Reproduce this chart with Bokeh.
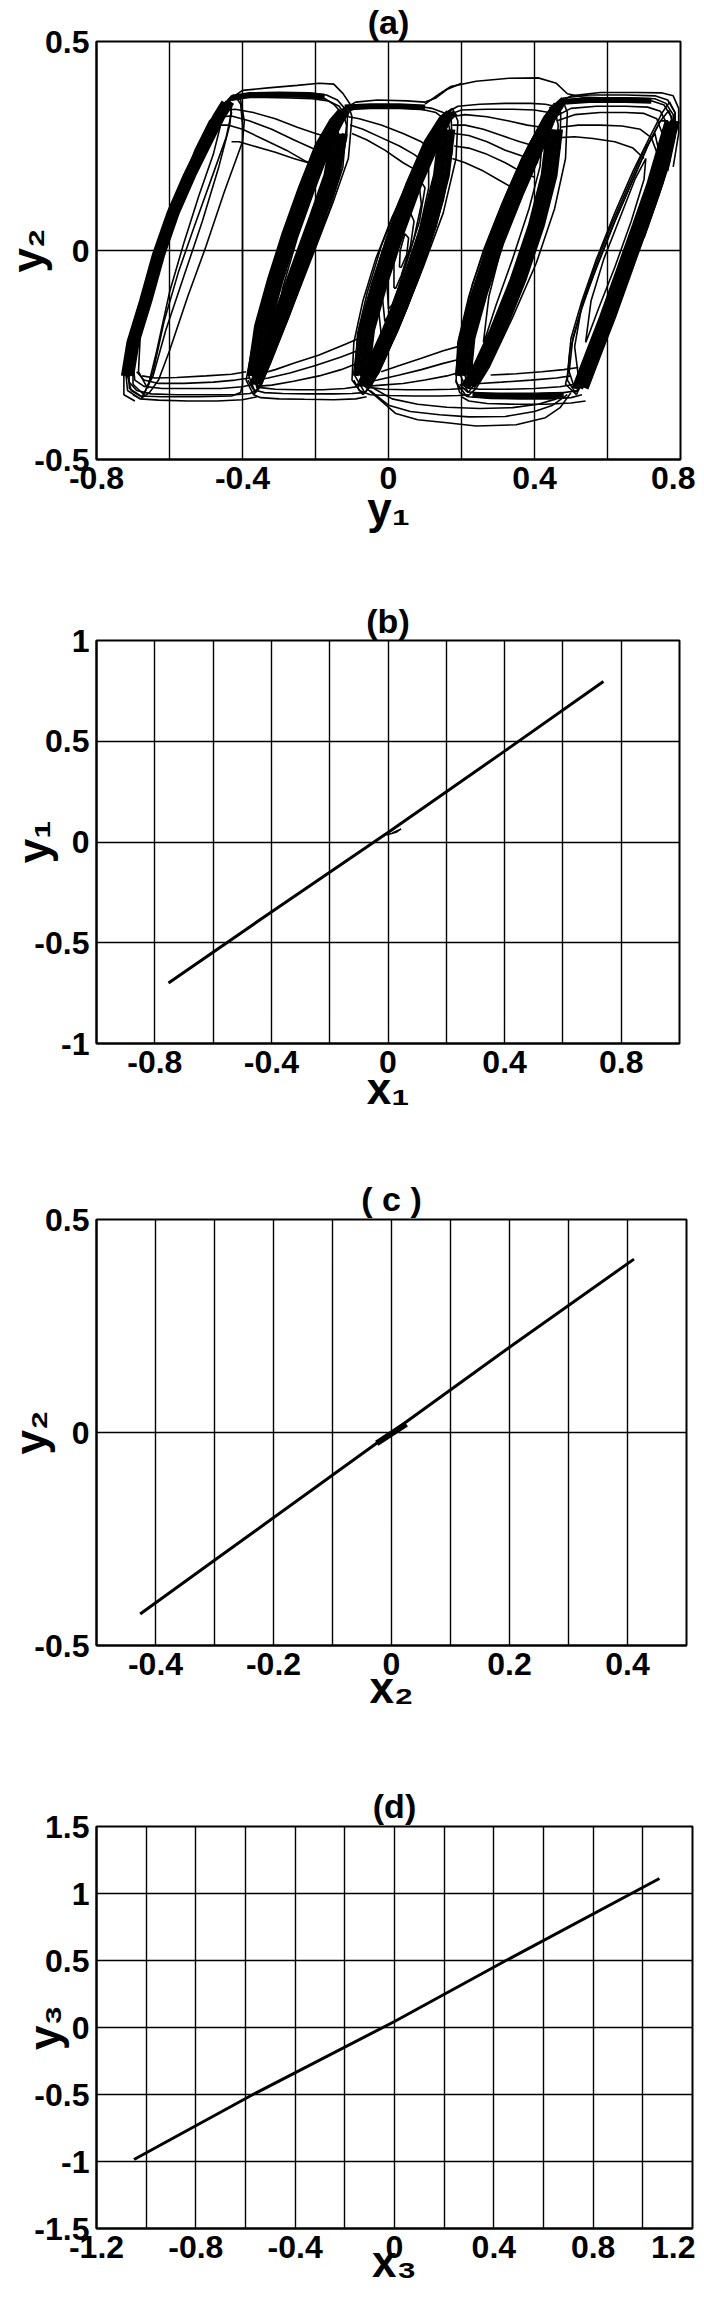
from bokeh.plotting import figure
from bokeh.layouts import column
from bokeh.models import FixedTicker, Range1d
from bokeh.embed import file_html
from bokeh.resources import INLINE

# ---------------- tick / grid data ----------------
a_xticks = [-0.8, -0.4, 0, 0.4, 0.8]
a_xlabels = ["-0.8", "-0.4", "0", "0.4", "0.8"]
a_xgrid = [-0.6, -0.4, -0.2, 0, 0.2, 0.4, 0.6]
a_yticks = [-0.5, 0, 0.5]
a_ylabels = ["-0.5", "0", "0.5"]
a_ygrid = [0]

b_xticks = [-0.8, -0.4, 0, 0.4, 0.8]
b_xlabels = ["-0.8", "-0.4", "0", "0.4", "0.8"]
b_xgrid = [-0.8, -0.6, -0.4, -0.2, 0, 0.2, 0.4, 0.6, 0.8]
b_yticks = [-1, -0.5, 0, 0.5, 1]
b_ylabels = ["-1", "-0.5", "0", "0.5", "1"]
b_ygrid = [-0.5, 0, 0.5]

c_xticks = [-0.4, -0.2, 0, 0.2, 0.4]
c_xlabels = ["-0.4", "-0.2", "0", "0.2", "0.4"]
c_xgrid = [-0.4, -0.3, -0.2, -0.1, 0, 0.1, 0.2, 0.3, 0.4]
c_yticks = [-0.5, 0, 0.5]
c_ylabels = ["-0.5", "0", "0.5"]
c_ygrid = [0]

d_xticks = [-1.2, -0.8, -0.4, 0, 0.4, 0.8, 1.2]
d_xlabels = ["-1.2", "-0.8", "-0.4", "0", "0.4", "0.8", "1.2"]
d_xgrid = [-1.0, -0.8, -0.6, -0.4, -0.2, 0, 0.2, 0.4, 0.6, 0.8, 1.0]
d_yticks = [-1.5, -1, -0.5, 0, 0.5, 1, 1.5]
d_ylabels = ["-1.5", "-1", "-0.5", "0", "0.5", "1", "1.5"]
d_ygrid = [-1, -0.5, 0, 0.5, 1]

# ---------------- panel (b), (c), (d) synchronisation lines ----------------
b_x = [-0.753, -0.40, 0.0, 0.40, 0.739]
b_y = [-0.700, -0.347, 0.047, 0.451, 0.797]
b_hook_x = [-0.005, 0.03, 0.045, 0.015]
b_hook_y = [0.035, 0.05, 0.065, 0.045]

c_x = [-0.426, -0.30, 0.0, 0.20, 0.411]
c_y = [-0.426, -0.30, 0.0, 0.20, 0.407]
c_blob_x = [-0.025, 0.025]
c_blob_y = [-0.025, 0.02]

d_x = [-1.049, -0.57, 0.0, 0.449, 1.067]
d_y = [-0.985, -0.50, 0.045, 0.50, 1.112]

# ---------------- panel (a): traced strokes of the multi-scroll attractor ----------------
scroll_a_x = [
    [-0.44, -0.42, -0.405, -0.400, -0.400, -0.405, -0.43, -0.52, -0.62, -0.68, -0.705, -0.715, -0.70],
    [-0.68, -0.715, -0.72, -0.70, -0.665, -0.625, -0.58, -0.53, -0.485, -0.45, -0.425, -0.405, -0.395, -0.40, -0.45, -0.50, -0.55, -0.60, -0.63, -0.655, -0.68],
    [-0.67, -0.70, -0.70, -0.675, -0.64, -0.60, -0.55, -0.505, -0.465, -0.44, -0.43, -0.445, -0.49, -0.535, -0.575, -0.615, -0.645, -0.67],
    [-0.66, -0.685, -0.68, -0.655, -0.62, -0.575, -0.53, -0.49, -0.465, -0.46, -0.48, -0.52, -0.56, -0.60, -0.635, -0.66],
    [-0.695, -0.725, -0.725, -0.705, -0.67, -0.63, -0.585, -0.54, -0.495, -0.46, -0.44, -0.43],
    [-0.675, -0.71, -0.712, -0.69, -0.655, -0.615, -0.57, -0.52, -0.475, -0.445, -0.43, -0.435, -0.465, -0.51, -0.56, -0.61, -0.645, -0.675],
]
scroll_a_y = [
    [0.36, 0.37, 0.35, 0.30, -0.32, -0.340, -0.348, -0.350, -0.350, -0.348, -0.335, -0.30, -0.22],
    [-0.355, -0.335, -0.29, -0.20, -0.10, 0.01, 0.12, 0.22, 0.30, 0.35, 0.372, 0.36, 0.31, 0.26, 0.14, 0.01, -0.11, -0.24, -0.31, -0.34, -0.355],
    [-0.345, -0.32, -0.26, -0.17, -0.06, 0.05, 0.16, 0.25, 0.32, 0.35, 0.33, 0.27, 0.16, 0.05, -0.05, -0.17, -0.29, -0.345],
    [-0.33, -0.29, -0.20, -0.09, 0.03, 0.14, 0.24, 0.31, 0.33, 0.30, 0.23, 0.13, 0.02, -0.10, -0.24, -0.33],
    [-0.36, -0.345, -0.30, -0.21, -0.11, 0.0, 0.11, 0.21, 0.29, 0.34, 0.36, 0.37],
    [-0.35, -0.33, -0.27, -0.18, -0.08, 0.03, 0.14, 0.24, 0.31, 0.35, 0.345, 0.30, 0.20, 0.07, -0.06, -0.19, -0.30, -0.35],
]
scroll_b_x = [
    [-0.37, -0.39, -0.375, -0.34, -0.30, -0.255, -0.205, -0.16, -0.13, -0.11, -0.10, -0.11, -0.15, -0.205, -0.265, -0.325, -0.35, -0.37],
    [-0.36, -0.375, -0.355, -0.32, -0.28, -0.235, -0.19, -0.15, -0.125, -0.115, -0.125, -0.165, -0.22, -0.275, -0.33, -0.35, -0.36],
    [-0.345, -0.355, -0.33, -0.29, -0.245, -0.20, -0.16, -0.14, -0.135, -0.155, -0.20, -0.25, -0.30, -0.335, -0.345],
    [-0.31, -0.29, -0.25, -0.205, -0.17, -0.16, -0.18, -0.22, -0.265, -0.30, -0.31],
    [-0.365, -0.385, -0.365, -0.33, -0.29, -0.245, -0.20, -0.155, -0.128, -0.112, -0.115, -0.14, -0.185, -0.24, -0.30, -0.34, -0.365],
]
scroll_b_y = [
    [-0.345, -0.31, -0.24, -0.13, -0.02, 0.10, 0.21, 0.295, 0.335, 0.348, 0.32, 0.22, 0.12, -0.005, -0.14, -0.27, -0.325, -0.345],
    [-0.33, -0.28, -0.17, -0.06, 0.05, 0.16, 0.25, 0.31, 0.33, 0.30, 0.20, 0.09, -0.03, -0.15, -0.27, -0.32, -0.33],
    [-0.30, -0.22, -0.11, 0.00, 0.11, 0.21, 0.28, 0.30, 0.26, 0.15, 0.04, -0.08, -0.19, -0.28, -0.30],
    [-0.20, -0.09, 0.03, 0.14, 0.22, 0.20, 0.11, 0.00, -0.11, -0.19, -0.20],
    [-0.34, -0.295, -0.20, -0.09, 0.02, 0.13, 0.23, 0.30, 0.335, 0.33, 0.27, 0.17, 0.05, -0.08, -0.21, -0.30, -0.34],
]
scroll_c_x = [
    [-0.07, -0.10, -0.095, -0.07, -0.035, 0.01, 0.065, 0.115, 0.15, 0.175, 0.19, 0.185, 0.15, 0.095, 0.035, -0.025, -0.055, -0.07],
    [-0.06, -0.085, -0.075, -0.045, -0.005, 0.045, 0.095, 0.135, 0.16, 0.17, 0.155, 0.115, 0.06, 0.00, -0.04, -0.06],
    [-0.05, -0.065, -0.045, -0.01, 0.035, 0.085, 0.125, 0.145, 0.14, 0.105, 0.055, 0.00, -0.035, -0.05],
    [-0.065, -0.092, -0.085, -0.058, -0.02, 0.03, 0.08, 0.125, 0.155, 0.172, 0.175, 0.15, 0.105, 0.05, -0.01, -0.045, -0.065],
    [-0.02, -0.03, -0.005, 0.035, 0.08, 0.11, 0.11, 0.085, 0.045, 0.005, -0.02],
    [-0.01, -0.018, 0.005, 0.045, 0.085, 0.10, 0.085, 0.045, 0.01, -0.01],
    [0.0, -0.005, 0.02, 0.055, 0.085, 0.09, 0.07, 0.035, 0.01, 0.0],
    [0.015, 0.015, 0.035, 0.06, 0.07, 0.06, 0.035, 0.02, 0.015],
    [0.03, 0.032, 0.045, 0.055, 0.05, 0.035, 0.03],
]
scroll_c_y = [
    [-0.345, -0.31, -0.22, -0.12, -0.02, 0.08, 0.18, 0.27, 0.325, 0.34, 0.31, 0.22, 0.09, -0.04, -0.17, -0.29, -0.33, -0.345],
    [-0.33, -0.28, -0.18, -0.08, 0.03, 0.14, 0.24, 0.30, 0.32, 0.28, 0.16, 0.03, -0.10, -0.22, -0.30, -0.33],
    [-0.30, -0.22, -0.11, 0.00, 0.12, 0.22, 0.28, 0.27, 0.19, 0.07, -0.06, -0.18, -0.27, -0.30],
    [-0.34, -0.30, -0.20, -0.10, 0.01, 0.12, 0.22, 0.29, 0.325, 0.31, 0.24, 0.12, -0.01, -0.14, -0.26, -0.32, -0.34],
    [-0.20, -0.12, -0.02, 0.09, 0.18, 0.21, 0.15, 0.05, -0.07, -0.17, -0.20],
    [-0.17, -0.10, -0.005, 0.10, 0.17, 0.15, 0.07, -0.04, -0.14, -0.17],
    [-0.14, -0.07, 0.02, 0.11, 0.15, 0.11, 0.03, -0.07, -0.13, -0.14],
    [-0.09, -0.03, 0.04, 0.09, 0.07, 0.01, -0.06, -0.09, -0.09],
    [-0.04, 0.0, 0.04, 0.03, -0.01, -0.04, -0.04],
]
scroll_d_x = [
    [0.215, 0.185, 0.19, 0.22, 0.26, 0.31, 0.365, 0.415, 0.45, 0.475, 0.49, 0.485, 0.455, 0.405, 0.34, 0.275, 0.24, 0.215],
    [0.22, 0.20, 0.21, 0.245, 0.29, 0.34, 0.39, 0.43, 0.455, 0.465, 0.455, 0.42, 0.365, 0.305, 0.255, 0.22],
    [0.235, 0.22, 0.24, 0.28, 0.325, 0.375, 0.415, 0.44, 0.44, 0.41, 0.36, 0.305, 0.26, 0.235],
    [0.26, 0.275, 0.31, 0.355, 0.395, 0.42, 0.415, 0.385, 0.34, 0.295, 0.265, 0.26],
    [0.218, 0.193, 0.20, 0.23, 0.275, 0.325, 0.38, 0.425, 0.455, 0.472, 0.47, 0.44, 0.39, 0.33, 0.27, 0.235, 0.218],
]
scroll_d_y = [
    [-0.35, -0.315, -0.22, -0.11, 0.00, 0.11, 0.22, 0.30, 0.345, 0.365, 0.33, 0.22, 0.10, -0.03, -0.16, -0.28, -0.33, -0.35],
    [-0.33, -0.27, -0.17, -0.06, 0.05, 0.16, 0.26, 0.32, 0.34, 0.30, 0.19, 0.06, -0.07, -0.19, -0.29, -0.33],
    [-0.30, -0.22, -0.11, 0.01, 0.12, 0.22, 0.29, 0.30, 0.24, 0.12, -0.01, -0.14, -0.25, -0.30],
    [-0.22, -0.11, 0.01, 0.12, 0.21, 0.25, 0.20, 0.10, -0.02, -0.13, -0.21, -0.22],
    [-0.34, -0.29, -0.19, -0.08, 0.03, 0.14, 0.245, 0.315, 0.35, 0.33, 0.25, 0.12, -0.01, -0.14, -0.26, -0.32, -0.34],
]
scroll_e_x = [
    [0.515, 0.485, 0.49, 0.50, 0.53, 0.57, 0.62, 0.67, 0.715, 0.75, 0.77, 0.785, 0.785, 0.77, 0.735, 0.69, 0.64, 0.59, 0.545, 0.52, 0.515],
    [0.51, 0.495, 0.505, 0.535, 0.575, 0.625, 0.675, 0.715, 0.745, 0.765, 0.765, 0.745, 0.71, 0.665, 0.615, 0.565, 0.53, 0.51],
    [0.52, 0.51, 0.53, 0.565, 0.61, 0.66, 0.70, 0.73, 0.74, 0.72, 0.68, 0.635, 0.585, 0.545, 0.52],
    [0.54, 0.555, 0.59, 0.635, 0.675, 0.705, 0.70, 0.665, 0.62, 0.575, 0.545, 0.54],
    [0.512, 0.49, 0.497, 0.525, 0.565, 0.615, 0.665, 0.71, 0.745, 0.768, 0.778, 0.77, 0.74, 0.70, 0.65, 0.60, 0.555, 0.525, 0.512],
]
scroll_e_y = [
    [-0.345, -0.32, -0.30, -0.21, -0.12, -0.02, 0.09, 0.19, 0.27, 0.33, 0.355, 0.33, 0.30, 0.22, 0.12, 0.01, -0.10, -0.20, -0.29, -0.335, -0.345],
    [-0.33, -0.29, -0.21, -0.12, -0.03, 0.08, 0.18, 0.26, 0.31, 0.31, 0.26, 0.17, 0.07, -0.04, -0.15, -0.25, -0.31, -0.33],
    [-0.30, -0.23, -0.13, -0.04, 0.06, 0.16, 0.24, 0.28, 0.24, 0.15, 0.04, -0.07, -0.18, -0.27, -0.30],
    [-0.22, -0.12, -0.02, 0.08, 0.17, 0.22, 0.17, 0.07, -0.04, -0.14, -0.21, -0.22],
    [-0.34, -0.31, -0.24, -0.15, -0.05, 0.06, 0.16, 0.25, 0.31, 0.335, 0.31, 0.24, 0.15, 0.04, -0.07, -0.17, -0.27, -0.325, -0.34],
]
# upper transitions between neighbouring scrolls
top_x = [
    [-0.43, -0.40, -0.33, -0.25, -0.19, -0.15, -0.125, -0.105],
    [-0.44, -0.41, -0.35, -0.28, -0.21, -0.17, -0.14, -0.12, -0.11],
    [-0.445, -0.42, -0.36, -0.29, -0.22, -0.18, -0.15, -0.13],
    [-0.435, -0.40, -0.34, -0.27, -0.21, -0.165, -0.135, -0.12],
    [-0.45, -0.42, -0.37, -0.31, -0.25, -0.20, -0.16, -0.14],
    [-0.455, -0.43, -0.38, -0.32, -0.26, -0.21, -0.17],
    [-0.46, -0.44, -0.40, -0.34, -0.28, -0.23, -0.19],
    [-0.43, -0.41, -0.37, -0.31, -0.26, -0.22, -0.20],
    [-0.13, -0.10, -0.05, 0.02, 0.08, 0.12, 0.15, 0.17],
    [-0.12, -0.09, -0.03, 0.04, 0.09, 0.13, 0.16],
    [-0.11, -0.08, -0.02, 0.04, 0.09, 0.12],
    [-0.105, -0.07, -0.02, 0.03, 0.07, 0.10],
    [-0.10, -0.06, -0.01, 0.04, 0.08],
    [-0.12, -0.09, -0.03, 0.05, 0.10, 0.13, 0.16, 0.20],
    [0.10, 0.14, 0.17, 0.24, 0.33, 0.41, 0.46, 0.49, 0.53, 0.60],
    [0.16, 0.19, 0.25, 0.32, 0.39, 0.43, 0.455, 0.47],
    [0.165, 0.20, 0.27, 0.34, 0.40, 0.44, 0.462],
    [0.17, 0.21, 0.27, 0.33, 0.38, 0.42, 0.44],
    [0.175, 0.21, 0.26, 0.31, 0.36, 0.40, 0.43],
    [0.18, 0.22, 0.27, 0.32, 0.37, 0.41],
    [0.18, 0.22, 0.27, 0.32, 0.36, 0.40],
    [0.175, 0.21, 0.26, 0.30, 0.34],
    [0.44, 0.48, 0.55, 0.65, 0.73, 0.765, 0.785, 0.785, 0.77, 0.74, 0.70],
    [0.45, 0.49, 0.56, 0.65, 0.72, 0.755, 0.775, 0.775, 0.755, 0.72],
    [0.45, 0.50, 0.57, 0.66, 0.73, 0.76, 0.78, 0.78, 0.765],
    [0.455, 0.50, 0.57, 0.65, 0.71, 0.745, 0.765, 0.76, 0.74],
    [0.46, 0.51, 0.58, 0.65, 0.70, 0.735, 0.75, 0.745],
    [0.47, 0.52, 0.58, 0.64, 0.69, 0.72, 0.735],
    [0.47, 0.51, 0.56, 0.62, 0.67, 0.70],
    [0.46, 0.50, 0.58, 0.68, 0.75, 0.78, 0.795, 0.795, 0.78],
]
top_y = [
    [0.365, 0.383, 0.389, 0.395, 0.400, 0.398, 0.376, 0.35],
    [0.355, 0.372, 0.377, 0.377, 0.376, 0.372, 0.36, 0.34, 0.32],
    [0.35, 0.368, 0.372, 0.372, 0.37, 0.366, 0.35, 0.33],
    [0.36, 0.366, 0.366, 0.365, 0.363, 0.358, 0.345, 0.325],
    [0.335, 0.338, 0.33, 0.315, 0.295, 0.28, 0.27, 0.255],
    [0.32, 0.322, 0.31, 0.29, 0.265, 0.245, 0.23],
    [0.30, 0.30, 0.29, 0.265, 0.24, 0.215, 0.20],
    [0.26, 0.26, 0.25, 0.235, 0.22, 0.21, 0.20],
    [0.335, 0.345, 0.347, 0.347, 0.345, 0.34, 0.33, 0.315],
    [0.33, 0.34, 0.341, 0.341, 0.338, 0.33, 0.31],
    [0.32, 0.315, 0.30, 0.28, 0.26, 0.24],
    [0.30, 0.29, 0.27, 0.25, 0.23, 0.21],
    [0.28, 0.265, 0.24, 0.21, 0.19],
    [0.34, 0.355, 0.36, 0.358, 0.355, 0.365, 0.385, 0.40],
    [0.35, 0.375, 0.392, 0.405, 0.412, 0.413, 0.40, 0.375, 0.367, 0.365],
    [0.33, 0.345, 0.35, 0.352, 0.352, 0.35, 0.345, 0.34],
    [0.325, 0.336, 0.338, 0.338, 0.336, 0.33, 0.32],
    [0.32, 0.325, 0.32, 0.31, 0.30, 0.295, 0.29],
    [0.30, 0.30, 0.29, 0.275, 0.26, 0.25, 0.245],
    [0.28, 0.275, 0.26, 0.24, 0.225, 0.21],
    [0.25, 0.245, 0.23, 0.21, 0.19, 0.175],
    [0.22, 0.21, 0.19, 0.17, 0.15],
    [0.34, 0.365, 0.372, 0.372, 0.37, 0.36, 0.33, 0.27, 0.21, 0.13, 0.03],
    [0.33, 0.355, 0.36, 0.36, 0.358, 0.348, 0.32, 0.26, 0.18, 0.09],
    [0.34, 0.36, 0.365, 0.365, 0.363, 0.352, 0.325, 0.26, 0.19],
    [0.32, 0.34, 0.345, 0.345, 0.343, 0.333, 0.30, 0.24, 0.17],
    [0.31, 0.325, 0.33, 0.33, 0.328, 0.315, 0.28, 0.22],
    [0.295, 0.30, 0.30, 0.298, 0.29, 0.27, 0.235],
    [0.27, 0.272, 0.268, 0.26, 0.245, 0.22],
    [0.35, 0.37, 0.378, 0.378, 0.377, 0.37, 0.34, 0.28, 0.20],
]
# lower transitions between neighbouring scrolls
bottom_x = [
    [-0.36, -0.38, -0.42, -0.50, -0.58, -0.65, -0.69, -0.71, -0.715],
    [-0.37, -0.40, -0.46, -0.54, -0.62, -0.67, -0.695, -0.70],
    [-0.38, -0.42, -0.48, -0.56, -0.63, -0.67, -0.69],
    [-0.39, -0.43, -0.50, -0.58, -0.64, -0.675],
    [-0.36, -0.40, -0.47, -0.55, -0.63, -0.68, -0.70],
    [-0.07, -0.10, -0.15, -0.22, -0.29, -0.34, -0.37, -0.385],
    [-0.08, -0.12, -0.18, -0.25, -0.31, -0.35, -0.37],
    [-0.085, -0.13, -0.19, -0.26, -0.32, -0.36],
    [-0.085, -0.13, -0.20, -0.27, -0.33, -0.36],
    [-0.08, -0.12, -0.19, -0.26, -0.31, -0.35],
    [-0.06, -0.09, -0.15, -0.23, -0.30, -0.35, -0.37],
    [0.22, 0.19, 0.14, 0.07, 0.00, -0.05, -0.08, -0.095],
    [0.21, 0.17, 0.11, 0.05, -0.01, -0.05, -0.075],
    [0.20, 0.16, 0.10, 0.04, -0.02, -0.06],
    [0.195, 0.15, 0.09, 0.03, -0.03, -0.06],
    [0.19, 0.15, 0.09, 0.03, -0.02],
    [-0.06, -0.02, 0.02, 0.08, 0.16, 0.24, 0.35, 0.43, 0.47, 0.50],
    [-0.05, 0.00, 0.06, 0.14, 0.22, 0.32, 0.40, 0.45, 0.49],
    [-0.04, 0.01, 0.08, 0.16, 0.25, 0.34, 0.41, 0.46],
    [0.53, 0.50, 0.44, 0.36, 0.28, 0.22, 0.195, 0.185],
    [0.52, 0.48, 0.41, 0.33, 0.26, 0.215, 0.195],
    [0.51, 0.47, 0.40, 0.32, 0.25, 0.21],
    [0.50, 0.46, 0.39, 0.31, 0.25, 0.215],
    [0.54, 0.50, 0.43, 0.35, 0.27, 0.22, 0.20],
    [0.52, 0.48, 0.42, 0.35, 0.28],
]
bottom_y = [
    [-0.335, -0.342, -0.345, -0.345, -0.345, -0.343, -0.335, -0.315, -0.28],
    [-0.32, -0.326, -0.33, -0.33, -0.33, -0.325, -0.31, -0.27],
    [-0.305, -0.31, -0.315, -0.318, -0.318, -0.31, -0.29],
    [-0.29, -0.296, -0.30, -0.304, -0.305, -0.30],
    [-0.35, -0.357, -0.36, -0.36, -0.358, -0.355, -0.345],
    [-0.34, -0.342, -0.343, -0.343, -0.342, -0.34, -0.333, -0.31],
    [-0.325, -0.33, -0.333, -0.333, -0.332, -0.328, -0.315],
    [-0.27, -0.285, -0.30, -0.313, -0.322, -0.325],
    [-0.24, -0.255, -0.275, -0.293, -0.305, -0.31],
    [-0.21, -0.225, -0.25, -0.27, -0.285, -0.295],
    [-0.35, -0.355, -0.357, -0.356, -0.355, -0.352, -0.345],
    [-0.345, -0.347, -0.348, -0.348, -0.347, -0.345, -0.335, -0.31],
    [-0.33, -0.332, -0.333, -0.333, -0.332, -0.328, -0.315],
    [-0.29, -0.30, -0.31, -0.318, -0.322, -0.325],
    [-0.26, -0.27, -0.285, -0.298, -0.31, -0.315],
    [-0.23, -0.24, -0.258, -0.275, -0.29],
    [-0.33, -0.36, -0.39, -0.405, -0.412, -0.42, -0.417, -0.40, -0.376, -0.34],
    [-0.335, -0.37, -0.385, -0.393, -0.398, -0.397, -0.385, -0.37, -0.345],
    [-0.33, -0.355, -0.368, -0.375, -0.378, -0.376, -0.368, -0.355],
    [-0.345, -0.352, -0.355, -0.355, -0.354, -0.35, -0.34, -0.31],
    [-0.335, -0.34, -0.343, -0.343, -0.342, -0.338, -0.32],
    [-0.32, -0.326, -0.33, -0.332, -0.332, -0.328],
    [-0.30, -0.305, -0.31, -0.315, -0.318, -0.318],
    [-0.36, -0.365, -0.368, -0.368, -0.366, -0.36, -0.35],
    [-0.28, -0.285, -0.29, -0.295, -0.298],
]
# densely over-written strands (drawn heavier)
dense_x = [
    [-0.725, -0.71, -0.675, -0.64, -0.60, -0.555, -0.51, -0.475, -0.45],
    [-0.715, -0.70, -0.665, -0.63, -0.59, -0.545, -0.50, -0.465, -0.44],
    [-0.705, -0.69, -0.655, -0.62, -0.58, -0.535, -0.49, -0.455, -0.43],
    [-0.38, -0.36, -0.325, -0.285, -0.24, -0.195, -0.155, -0.13],
    [-0.365, -0.345, -0.31, -0.27, -0.225, -0.18, -0.14, -0.12],
    [-0.35, -0.33, -0.295, -0.255, -0.21, -0.165, -0.13, -0.112],
    [-0.12, -0.14, -0.18, -0.23, -0.28, -0.33, -0.355],
    [-0.135, -0.155, -0.195, -0.245, -0.295, -0.345, -0.365],
    [-0.15, -0.17, -0.21, -0.26, -0.31, -0.355, -0.372],
    [-0.09, -0.075, -0.04, 0.005, 0.055, 0.105, 0.145, 0.165],
    [-0.075, -0.06, -0.025, 0.02, 0.07, 0.12, 0.155, 0.175],
    [-0.06, -0.045, -0.01, 0.035, 0.085, 0.135, 0.165, 0.183],
    [0.175, 0.16, 0.125, 0.075, 0.02, -0.035, -0.06],
    [0.16, 0.145, 0.11, 0.06, 0.005, -0.05, -0.07],
    [0.145, 0.13, 0.095, 0.045, -0.01, -0.062, -0.08],
    [0.19, 0.20, 0.235, 0.28, 0.335, 0.39, 0.43, 0.46],
    [0.205, 0.215, 0.25, 0.295, 0.35, 0.405, 0.44, 0.47],
    [0.22, 0.23, 0.265, 0.31, 0.365, 0.42, 0.45, 0.475],
    [0.47, 0.455, 0.42, 0.37, 0.315, 0.26, 0.23],
    [0.455, 0.44, 0.405, 0.355, 0.30, 0.245, 0.215],
    [0.44, 0.425, 0.39, 0.34, 0.285, 0.232, 0.205],
    [0.525, 0.56, 0.60, 0.645, 0.69, 0.73, 0.76, 0.78],
    [0.51, 0.545, 0.585, 0.63, 0.675, 0.715, 0.745, 0.765],
    [0.54, 0.575, 0.615, 0.66, 0.705, 0.745, 0.772, 0.79],
    [-0.43, -0.38, -0.30, -0.22, -0.175],
    [-0.12, -0.05, 0.03, 0.10],
    [0.47, 0.55, 0.65, 0.72],
    [0.23, 0.30, 0.40, 0.48],
]
dense_y = [
    [-0.30, -0.22, -0.12, -0.01, 0.09, 0.18, 0.26, 0.32, 0.355],
    [-0.30, -0.22, -0.12, -0.01, 0.09, 0.18, 0.26, 0.32, 0.355],
    [-0.30, -0.22, -0.12, -0.01, 0.09, 0.18, 0.26, 0.32, 0.355],
    [-0.30, -0.18, -0.07, 0.04, 0.15, 0.25, 0.31, 0.335],
    [-0.30, -0.18, -0.07, 0.04, 0.15, 0.25, 0.31, 0.335],
    [-0.30, -0.18, -0.07, 0.04, 0.15, 0.25, 0.31, 0.335],
    [0.28, 0.18, 0.08, -0.04, -0.16, -0.27, -0.32],
    [0.28, 0.18, 0.08, -0.04, -0.16, -0.27, -0.32],
    [0.28, 0.18, 0.08, -0.04, -0.16, -0.27, -0.32],
    [-0.30, -0.19, -0.08, 0.04, 0.16, 0.26, 0.315, 0.33],
    [-0.30, -0.19, -0.08, 0.04, 0.16, 0.26, 0.315, 0.33],
    [-0.30, -0.19, -0.08, 0.04, 0.16, 0.26, 0.315, 0.33],
    [0.29, 0.18, 0.06, -0.07, -0.19, -0.29, -0.325],
    [0.29, 0.18, 0.06, -0.07, -0.19, -0.29, -0.325],
    [0.29, 0.18, 0.06, -0.07, -0.19, -0.29, -0.325],
    [-0.30, -0.21, -0.10, 0.02, 0.14, 0.25, 0.315, 0.35],
    [-0.30, -0.21, -0.10, 0.02, 0.14, 0.25, 0.315, 0.35],
    [-0.30, -0.21, -0.10, 0.02, 0.14, 0.25, 0.315, 0.35],
    [0.29, 0.18, 0.06, -0.07, -0.19, -0.29, -0.325],
    [0.29, 0.18, 0.06, -0.07, -0.19, -0.29, -0.325],
    [0.29, 0.18, 0.06, -0.07, -0.19, -0.29, -0.325],
    [-0.33, -0.25, -0.16, -0.05, 0.06, 0.16, 0.25, 0.31],
    [-0.33, -0.25, -0.16, -0.05, 0.06, 0.16, 0.25, 0.31],
    [-0.33, -0.25, -0.16, -0.05, 0.06, 0.16, 0.25, 0.31],
    [0.365, 0.372, 0.373, 0.372, 0.368],
    [0.342, 0.345, 0.345, 0.342],
    [0.355, 0.36, 0.36, 0.358],
    [-0.345, -0.347, -0.347, -0.345],
]

FONT = "Liberation Sans"


def make_panel(title, xr, yr, xticks, xlabels, xgrid, yticks, ylabels, ygrid,
               xlabel, ylabel, fw, fh, bl, bt, br, bb, t_stand, xl_stand, yl_stand):
    p = figure(frame_width=fw, frame_height=fh,
               x_range=Range1d(*xr), y_range=Range1d(*yr),
               output_backend="svg", toolbar_location=None,
               min_border_left=bl, min_border_top=bt,
               min_border_right=br, min_border_bottom=bb,
               background_fill_color="white", border_fill_color="white")
    p.title.text = title
    p.title.align = "center"
    p.title.text_font = FONT
    p.title.text_font_size = "34px"
    p.title.text_font_style = "bold"
    p.title.text_color = "black"
    p.title.standoff = t_stand
    p.outline_line_color = "black"
    p.outline_line_width = 2
    p.outline_line_alpha = 1

    p.xaxis.ticker = FixedTicker(ticks=xticks)
    p.xaxis.major_label_overrides = dict(zip(xticks, xlabels))
    p.yaxis.ticker = FixedTicker(ticks=yticks)
    p.yaxis.major_label_overrides = dict(zip(yticks, ylabels))
    p.xgrid.ticker = FixedTicker(ticks=xgrid)
    p.ygrid.ticker = FixedTicker(ticks=ygrid)
    for g in (p.xgrid, p.ygrid):
        g.grid_line_color = "black"
        g.grid_line_width = 1.4
        g.grid_line_alpha = 1

    for ax in (p.xaxis, p.yaxis):
        ax.axis_line_color = "black"
        ax.axis_line_width = 2
        ax.major_tick_in = 4
        ax.major_tick_out = 0
        ax.major_tick_line_color = "black"
        ax.minor_tick_line_color = None
        ax.major_label_text_font = FONT
        ax.major_label_text_font_size = "32px"
        ax.major_label_text_font_style = "bold"
        ax.major_label_text_color = "black"
        ax.major_label_standoff = 7
        ax.axis_label_text_font = FONT
        ax.axis_label_text_font_size = "44px"
        ax.axis_label_text_font_style = "bold"
        ax.axis_label_text_color = "black"
    p.xaxis.axis_label = xlabel
    p.yaxis.axis_label = ylabel
    p.xaxis.axis_label_standoff = xl_stand
    p.yaxis.axis_label_standoff = yl_stand
    return p


pa = make_panel("(a)", (-0.8, 0.8), (-0.5, 0.5), a_xticks, a_xlabels, a_xgrid,
                a_yticks, a_ylabels, a_ygrid, "y\u2081", "y\u2082",
                584, 418, 89, 40, 15, 134, 1, -8, -21)
thin_x = scroll_a_x + scroll_b_x + scroll_c_x + scroll_d_x + scroll_e_x + top_x + bottom_x
thin_y = scroll_a_y + scroll_b_y + scroll_c_y + scroll_d_y + scroll_e_y + top_y + bottom_y
pa.multi_line(xs=thin_x, ys=thin_y, line_color="black", line_width=1.6)
pa.multi_line(xs=dense_x, ys=dense_y, line_color="black", line_width=6)

pb = make_panel("(b)", (-1, 1), (-1, 1), b_xticks, b_xlabels, b_xgrid,
                b_yticks, b_ylabels, b_ygrid, "x\u2081", "y\u2081",
                583, 403, 95, 47, 10, 130, 2, -12, -27)
pb.line(b_x, b_y, line_color="black", line_width=3)
pb.line(b_hook_x, b_hook_y, line_color="black", line_width=1.5)

pc = make_panel("( c )", (-0.5, 0.5), (-0.5, 0.5), c_xticks, c_xlabels, c_xgrid,
                c_yticks, c_ylabels, c_ygrid, "x\u2082", "y\u2082",
                590, 426, 91, 46, 7, 138, 4, -15, -24)
pc.line(c_x, c_y, line_color="black", line_width=3)
pc.line(c_blob_x, c_blob_y, line_color="black", line_width=6)

pd = make_panel("(d)", (-1.2, 1.2), (-1.5, 1.5), d_xticks, d_xlabels, d_xgrid,
                d_yticks, d_ylabels, d_ygrid, "x\u2083", "y\u2083",
                596, 402, 72, 43, 20, 69, 3, -24, -38)
pd.line(d_x, d_y, line_color="black", line_width=3)

layout = column(pa, pb, pc, pd, spacing=0)
open("out.html", "w").write(file_html(layout, INLINE))
